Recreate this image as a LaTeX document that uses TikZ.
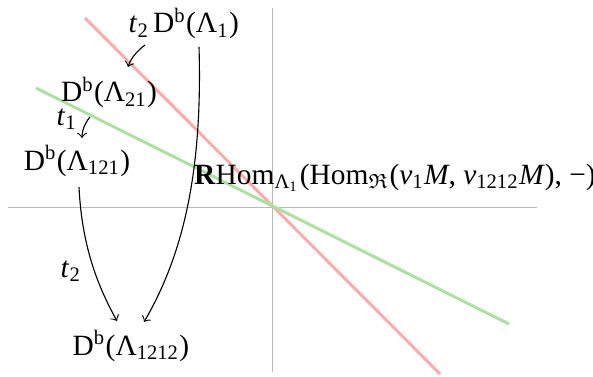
\documentclass[tikz,border=0pt]{standalone}
\usepackage{fontspec}
\usepackage{amssymb}
\setmainfont{Liberation Serif}
\definecolor{axisgray}{RGB}{185,185,185}
\definecolor{lred}{RGB}{255,170,170}
\definecolor{lgreen}{RGB}{170,225,160}
\begin{document}
\begin{tikzpicture}[x=0.34pt,y=-0.34pt,
  lbl/.style={anchor=base,inner sep=0pt,font=\fontsize{10}{12}\selectfont},
  axis/.style={draw=axisgray,line width=0.3pt},
  mapline/.style={line width=1pt},
  arr/.style={->,line width=0.38pt}]
\useasboundingbox (0,0) rectangle (593,376);
% axes
\coordinate (vt) at (272,8); \coordinate (vb) at (272,372);
\coordinate (hl) at (8,207); \coordinate (hr) at (537,207);
\draw[axis] (vt) -- (vb);
\draw[axis] (hl) -- (hr);
% lines
\coordinate (ra) at (85,18); \coordinate (rb) at (440,374);
\coordinate (ga) at (36,88); \coordinate (gb) at (509,324);
\draw[mapline,lred] (ra) -- (rb);
\draw[mapline,lgreen] (ga) -- (gb);
% nodes
\node[lbl] (n1) at (196,33) {D\textsuperscript{b}(Λ\textsubscript{1})};
\node[lbl] (tA) at (139,33) {\textit{t}\textsubscript{2}};
\node[lbl] (n21) at (109,102) {D\textsuperscript{b}(Λ\textsubscript{21})};
\node[lbl] (tB) at (67,125) {\textit{t}\textsubscript{1}};
\node[lbl] (n121) at (77,170) {D\textsuperscript{b}(Λ\textsubscript{121})};
\node[lbl] (tC) at (71,277) {\textit{t}\textsubscript{2}};
\node[lbl] (n1212) at (131,355) {D\textsuperscript{b}(Λ\textsubscript{1212})};
\node[lbl] (rh) at (395,184) {\textbf{R}Hom\textsubscript{Λ\textsubscript{1}}(Hom\textsubscript{$\mathfrak{R}$}(\textit{ν}\textsubscript{1}\textit{M}, \textit{ν}\textsubscript{1212}\textit{M}), −)};
% connector ends
\coordinate (a1s) at (145,45); \coordinate (a1e) at (128,67);
\coordinate (a2s) at (90,117); \coordinate (a2e) at (82,138);
\coordinate (a3s) at (199,47); \coordinate (a3e) at (144,322);
\coordinate (a4s) at (79,187); \coordinate (a4e) at (117,321);
\draw[arr] (a1s) .. controls (137,51) and (131,58) .. (a1e);
\draw[arr] (a2s) .. controls (85,123) and (82,130) .. (a2e);
\draw[arr] (a3s) .. controls (203,180) and (180,260) .. (a3e);
\draw[arr] (a4s) .. controls (82,250) and (100,290) .. (a4e);
\end{tikzpicture}
\end{document}
